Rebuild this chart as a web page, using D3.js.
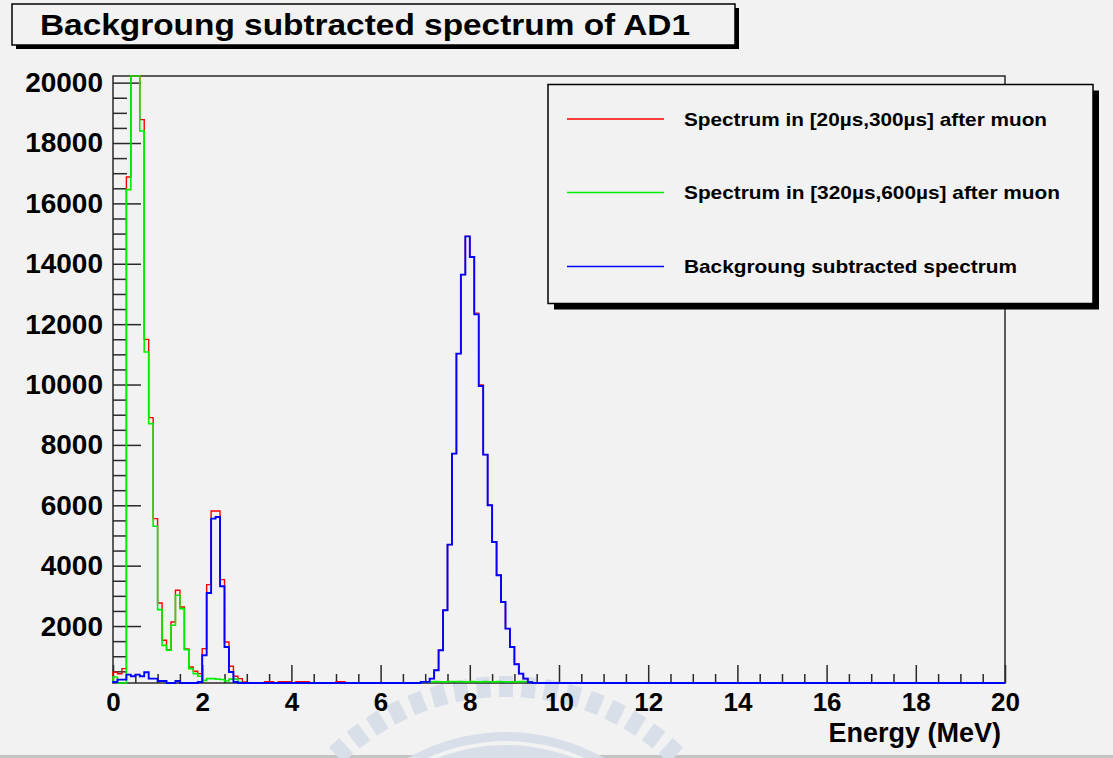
<!DOCTYPE html>
<html>
<head>
<meta charset="utf-8">
<script src="https://cdn.jsdelivr.net/npm/d3@7"></script>
<style>
  html, body { margin: 0; padding: 0; background: #f2f2f2; }
  svg { display: block; font-family: "Liberation Sans", Arial, Helvetica, sans-serif; }
</style>
</head>
<body>
<svg id="chart" width="1113" height="758"></svg>
<script>
// ---- data: 200 bins of 0.1 MeV from 0 to 20 MeV ----
const binWidth = 0.1;
const xDomain = [0, 20];
const yDomain = [113, 20220];
const xTicks = [0, 2, 4, 6, 8, 10, 12, 14, 16, 18, 20];
const yTicks = [2000, 4000, 6000, 8000, 10000, 12000, 14000, 16000, 18000, 20000];

// counts in [20us,300us] after muon
const spectrumEarly = [
  470, 420, 590, 16873, 21500, 22500, 18774, 11497, 8904, 5558, 2763, 1527, 1220, 2133, 3183, 2630, 1240, 643, 500, 424,
  1252, 3372, 5810, 5810, 3538, 1471, 666, 335, 258, 150, 90, 85, 95, 90, 160, 160, 95, 160, 160, 160,
  90, 160, 160, 160, 85, 90, 80, 95, 90, 85, 160, 160, 90, 80, 85, 90, 75, 80, 90, 85,
  80, 85, 90, 75, 80, 85, 90, 95, 100, 150, 150, 258, 533, 1196, 2521, 4697, 7711, 11024, 13640, 14909,
  14223, 12365, 9990, 7678, 5999, 4783, 3680, 2796, 1914, 1305, 732, 424, 258, 140, 95, 85, 80, 75, 80, 70,
  70, 75, 65, 70, 60, 65, 70, 60, 55, 60, 65, 55, 60, 50, 55, 60, 50, 55, 50, 45,
  50, 45, 50, 55, 45, 40, 50, 45, 40, 45, 40, 45, 40, 35, 40, 45, 35, 40, 35, 40,
  35, 40, 35, 30, 35, 40, 30, 35, 30, 35, 30, 25, 30, 35, 30, 25, 30, 25, 30, 25,
  30, 25, 20, 25, 30, 25, 20, 25, 20, 25, 20, 25, 20, 15, 20, 25, 20, 15, 20, 15,
  20, 15, 20, 15, 20, 15, 10, 15, 20, 15, 10, 15, 10, 15, 10, 10, 15, 10, 10, 10
];

// counts in [320us,600us] after muon
const spectrumLate = [
  311, 60, 60, 16456, 21500, 22500, 18397, 11077, 8705, 5303, 2544, 1361, 1196, 2024, 3018, 2577, 1219, 590, 424, 335,
  200, 258, 258, 240, 230, 180, 240, 240, 140, 120, 70, 60, 55, 50, 45, 50, 40, 45, 40, 45,
  40, 45, 40, 35, 40, 35, 40, 35, 30, 35, 30, 35, 30, 35, 30, 30, 35, 30, 35, 40,
  45, 50, 55, 60, 70, 80, 90, 100, 110, 150, 155, 150, 160, 155, 150, 160, 165, 160, 155, 150,
  160, 155, 150, 160, 155, 150, 160, 155, 150, 155, 150, 160, 155, 150, 90, 70, 50, 40, 35, 30,
  30, 25, 30, 35, 30, 25, 30, 25, 30, 35, 30, 25, 30, 25, 20, 25, 30, 25, 20, 25,
  30, 25, 20, 25, 20, 25, 30, 25, 20, 25, 20, 15, 20, 25, 20, 15, 20, 25, 20, 15,
  20, 15, 20, 25, 20, 15, 20, 15, 10, 15, 20, 15, 10, 15, 20, 15, 10, 15, 10, 15,
  10, 15, 10, 15, 10, 15, 10, 5, 10, 15, 10, 5, 10, 5, 10, 15, 10, 5, 10, 5,
  10, 5, 10, 5, 10, 5, 10, 5, 10, 5, 5, 10, 5, 5, 10, 5, 5, 5, 10, 5
];

// background subtracted counts
const spectrumSubtracted = [
  146, 225, 225, 391, 335, 391, 335, 467, 258, 258, 179, 179, 60, 60, 179, 60, 60, 60, 60, 146,
  1030, 3094, 5558, 5611, 3316, 1305, 477, 146, 60, 40, 30, 35, 40, 30, 25, 30, 35, 30, 25, 30,
  30, 25, 30, 35, 30, 25, 30, 35, 30, 25, 30, 35, 30, 25, 30, 30, 35, 30, 25, 30,
  35, 30, 25, 30, 35, 40, 45, 50, 60, 150, 150, 258, 533, 1196, 2521, 4697, 7711, 11024, 13640, 14909,
  14223, 12325, 9950, 7678, 5999, 4783, 3680, 2796, 1914, 1305, 732, 424, 258, 140, 60, 40, 30, 35, 30, 25,
  30, 25, 30, 35, 30, 25, 30, 25, 30, 35, 30, 25, 30, 25, 30, 35, 30, 25, 30, 25,
  30, 25, 30, 25, 30, 35, 30, 25, 30, 25, 30, 25, 30, 35, 30, 25, 30, 25, 30, 25,
  30, 25, 30, 25, 30, 25, 30, 35, 30, 25, 30, 25, 30, 25, 30, 25, 30, 25, 30, 25,
  30, 25, 30, 25, 30, 25, 30, 25, 30, 25, 30, 25, 30, 25, 30, 25, 30, 25, 30, 25,
  30, 25, 30, 25, 30, 25, 30, 25, 30, 25, 30, 25, 30, 25, 30, 25, 30, 25, 30, 25
];

const seriesLabels = [
  "Spectrum in [20\u00b5s,300\u00b5s] after muon",
  "Spectrum in [320\u00b5s,600\u00b5s] after muon",
  "Backgroung subtracted spectrum"
];
const seriesColors = ["#ff0000", "#00ee00", "#0000ff"];
const seriesWidths = [1.4, 1.6, 1.9];
const titleText = "Backgroung subtracted spectrum of AD1";
const xTitle = "Energy (MeV)";

// ---- layout ----
const W = 1113, H = 758;
const plot = { left: 113, right: 1005, top: 76, bottom: 683 };
const bg = "#f2f2f2";
const ink = "#2a2a2a";

const svg = d3.select("#chart");
svg.append("rect").attr("width", W).attr("height", H).attr("fill", bg);
svg.append("rect").attr("x", 0).attr("y", 755).attr("width", W).attr("height", 3).attr("fill", "#c4c4c4");

// faint seal watermark near the bottom: a ring of radial teeth over a band
const seal = svg.append("g").attr("transform", "translate(506,931)").attr("fill", "#d9dfe9");
d3.range(-8, 9).forEach(k => {
  seal.append("rect")
    .attr("x", -7).attr("y", -255).attr("width", 14).attr("height", 21)
    .attr("transform", `rotate(${k * 5.3})`);
});
seal.append("path").attr("d", d3.arc().innerRadius(170).outerRadius(199)({
  startAngle: -50 * Math.PI / 180, endAngle: 50 * Math.PI / 180 }));
seal.append("path").attr("fill", bg).attr("d", d3.arc().innerRadius(186).outerRadius(190)({
  startAngle: -50 * Math.PI / 180, endAngle: 50 * Math.PI / 180 }));

// ---- scales ----
const x = d3.scaleLinear().domain(xDomain).range([plot.left, plot.right]);
const y = d3.scaleLinear().domain(yDomain).range([plot.bottom, plot.top]).clamp(true);

// ---- axes (ticks point inward) ----
const yMinor = d3.range(500, yDomain[1], 500).filter(v => v % 2000 !== 0 && v > yDomain[0]);
const xMinor = d3.range(0.5, 20, 0.5).filter(v => v % 2 !== 0);

function styleAxis(g) {
  g.select(".domain").remove();
  g.selectAll(".tick line").attr("stroke", ink).attr("stroke-width", 1.5);
}

svg.append("g").attr("transform", `translate(${plot.left},0)`)
  .call(d3.axisLeft(y).tickValues(yMinor).tickSizeInner(-14).tickSizeOuter(0).tickFormat(""))
  .call(styleAxis);
svg.append("g").attr("transform", `translate(${plot.left},0)`)
  .call(d3.axisLeft(y).tickValues(yTicks).tickSizeInner(-28).tickSizeOuter(0).tickPadding(10).tickFormat(d3.format("d")))
  .call(styleAxis)
  .call(g => g.selectAll("text").attr("font-size", 28).attr("font-weight", "bold").attr("fill", "#000")
    .attr("font-family", "'Liberation Sans', Arial, sans-serif"));

svg.append("g").attr("transform", `translate(0,${plot.bottom})`)
  .call(d3.axisBottom(x).tickValues(xMinor).tickSizeInner(-9).tickSizeOuter(0).tickFormat(""))
  .call(styleAxis);
svg.append("g").attr("transform", `translate(0,${plot.bottom})`)
  .call(d3.axisBottom(x).tickValues(xTicks).tickSizeInner(-18).tickSizeOuter(0).tickPadding(10).tickFormat(d3.format("d")))
  .call(styleAxis)
  .call(g => g.selectAll("text").attr("font-size", 26).attr("font-weight", "bold").attr("fill", "#000")
    .attr("font-family", "'Liberation Sans', Arial, sans-serif"));

// frame
svg.append("rect")
  .attr("x", plot.left).attr("y", plot.top)
  .attr("width", plot.right - plot.left).attr("height", plot.bottom - plot.top)
  .attr("fill", "none").attr("stroke", ink).attr("stroke-width", 1.5);

// x-axis title
svg.append("text").attr("x", 1001).attr("y", 742).attr("text-anchor", "end")
  .attr("font-size", 27).attr("font-weight", "bold").text(xTitle);

// ---- histograms ----
const stepLine = d3.line().x(d => x(d[0])).y(d => y(d[1])).curve(d3.curveStepAfter);
function histPoints(values) {
  const pts = [[xDomain[0], yDomain[0]]];
  values.forEach((v, i) => pts.push([i * binWidth, v]));
  pts.push([values.length * binWidth, values[values.length - 1]]);
  pts.push([values.length * binWidth, yDomain[0]]);
  return pts;
}
[spectrumEarly, spectrumLate, spectrumSubtracted].forEach((vals, i) => {
  svg.append("path")
    .attr("d", stepLine(histPoints(vals)))
    .attr("fill", "none")
    .attr("stroke", seriesColors[i])
    .attr("stroke-width", seriesWidths[i])
    .attr("stroke-linejoin", "miter");
});

// ---- legend ----
const lg = { x: 548, y: 84.5, w: 545, h: 219 };
svg.append("rect").attr("x", lg.x + 6).attr("y", lg.y + 6).attr("width", lg.w).attr("height", lg.h).attr("fill", "#000");
svg.append("rect").attr("x", lg.x).attr("y", lg.y).attr("width", lg.w).attr("height", lg.h)
  .attr("fill", bg).attr("stroke", "#000").attr("stroke-width", 1.5);
const legendRowsY = [119, 192.5, 266.5];
const legendTextLen = [363, 376, 333];
seriesLabels.forEach((lab, i) => {
  svg.append("line")
    .attr("x1", 567).attr("x2", 664)
    .attr("y1", legendRowsY[i]).attr("y2", legendRowsY[i])
    .attr("stroke", seriesColors[i]).attr("stroke-width", 1.6);
  svg.append("text")
    .attr("x", 684).attr("y", legendRowsY[i] + 6.5)
    .attr("font-size", 18.5).attr("font-weight", "bold")
    .attr("textLength", legendTextLen[i]).attr("lengthAdjust", "spacingAndGlyphs")
    .text(lab);
});

// ---- title box ----
svg.append("rect").attr("x", 16).attr("y", 8).attr("width", 723).attr("height", 41).attr("fill", "#000");
svg.append("rect").attr("x", 12).attr("y", 4).attr("width", 723).attr("height", 41)
  .attr("fill", bg).attr("stroke", "#000").attr("stroke-width", 1.5);
svg.append("text").attr("x", 40).attr("y", 35)
  .attr("font-size", 30).attr("font-weight", "bold")
  .attr("textLength", 650).attr("lengthAdjust", "spacingAndGlyphs")
  .text(titleText);
</script>
</body>
</html>
